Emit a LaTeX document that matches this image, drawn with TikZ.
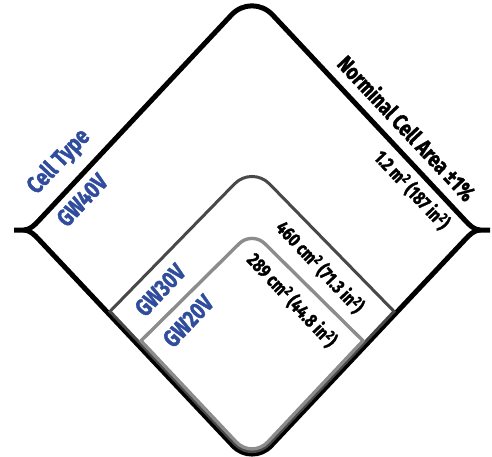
\documentclass[tikz,border=0pt]{standalone}
\usepackage{fontspec}
\setmainfont{Fira Sans}[FakeStretch=0.8, BoldFeatures={FakeBold=1.6}]
\usetikzlibrary{calc}
\definecolor{lblblue}{RGB}{48,76,156}
\definecolor{g30}{RGB}{72,72,72}
\definecolor{g20}{RGB}{140,140,140}
\begin{document}
\begin{tikzpicture}[x=1pt,y=-1pt,
  outerln/.style={line width=5pt,black,line join=round},
  ln30/.style={line width=3pt,g30,line join=miter},
  ln20/.style={line width=3.4pt,g20,line join=miter},
  typelbl/.style={font=\bfseries\fontsize{24}{24}\selectfont,text=lblblue,inner sep=0pt,rotate=46.8},
  headlbl/.style={font=\bfseries\fontsize{22.5}{22.5}\selectfont,text=black,inner sep=0pt,rotate=-46.8},
  arealbl/.style={font=\bfseries\fontsize{19}{19}\selectfont,text=black,inner sep=0pt,rotate=-46.8}]
\useasboundingbox (0,0) rectangle (492,457);
% outer shape (GW40V)
\coordinate (T) at (252,-7);
\coordinate (B) at (252,466);
\coordinate (Lu) at (38.2,221.2);
\coordinate (Ll) at (38.2,238.8);
\coordinate (Ru) at (465.8,221.2);
\coordinate (Rl) at (465.8,238.8);
\coordinate (TL) at (14,230);
\coordinate (TR) at (490,230);
% GW30V
\coordinate (C30L) at (110,311.4);
\coordinate (C30R) at (394,311.4);
\coordinate (T30) at (252,166);
\coordinate (B30) at (252,462.3);
% GW20V
\coordinate (C20L) at (141,340.8);
\coordinate (C20R) at (363,340.8);
\coordinate (T20) at (252,231);
\coordinate (B20) at (252,458.7);

\draw[outerln] (TL) -- (24,230) .. controls (30,230) and (35.5,224.1) .. (Lu)
  -- ($(Lu)!0.5!(T)$) [rounded corners=30pt] -- (T) -- ($(T)!0.5!(Ru)$) [sharp corners]
  -- (Ru) .. controls (468.5,224.1) and (474,230) .. (480,230) -- (TR);
\draw[outerln] (24,230) .. controls (30,230) and (35.5,235.9) .. (Ll)
  -- ($(Ll)!0.5!(B)$) [rounded corners=28pt] -- (B) -- ($(B)!0.5!(Rl)$) [sharp corners]
  -- (Rl) .. controls (468.5,235.9) and (474,230) .. (480,230);

\draw[ln30] (C30L) -- ($(C30L)!0.5!(T30)$) [rounded corners=25pt] -- (T30) -- ($(T30)!0.5!(C30R)$) [sharp corners]
  -- (C30R) -- ($(C30R)!0.5!(B30)$) [rounded corners=25pt] -- (B30) -- ($(B30)!0.5!(C30L)$) [sharp corners] -- cycle;
\draw[ln20] (C20L) -- ($(C20L)!0.5!(T20)$) [rounded corners=18pt] -- (T20) -- ($(T20)!0.5!(C20R)$) [sharp corners]
  -- (C20R) -- ($(C20R)!0.5!(B20)$) [rounded corners=23pt] -- (B20) -- ($(B20)!0.5!(C20L)$) [sharp corners] -- cycle;

% labels
\node[typelbl] (celltype) at (59,162) {Cell Type};
\node[typelbl] (gw40) at (82,200) {GW40V};
\node[typelbl] (gw30) at (160,290) {GW30V};
\node[typelbl] (gw20) at (188,321) {GW20V};
\node[headlbl] (area) at (407,128) {Norminal Cell Area ±1\%};
\node[arealbl] (a40) at (412,190) {1.2 m\textsuperscript{2} (187 in\textsuperscript{2})};
\node[arealbl] (a30) at (320,267) {460 cm\textsuperscript{2} (71.3 in\textsuperscript{2})};
\node[arealbl] (a20) at (292,300) {289 cm\textsuperscript{2} (44.8 in\textsuperscript{2})};
\end{tikzpicture}
\end{document}
